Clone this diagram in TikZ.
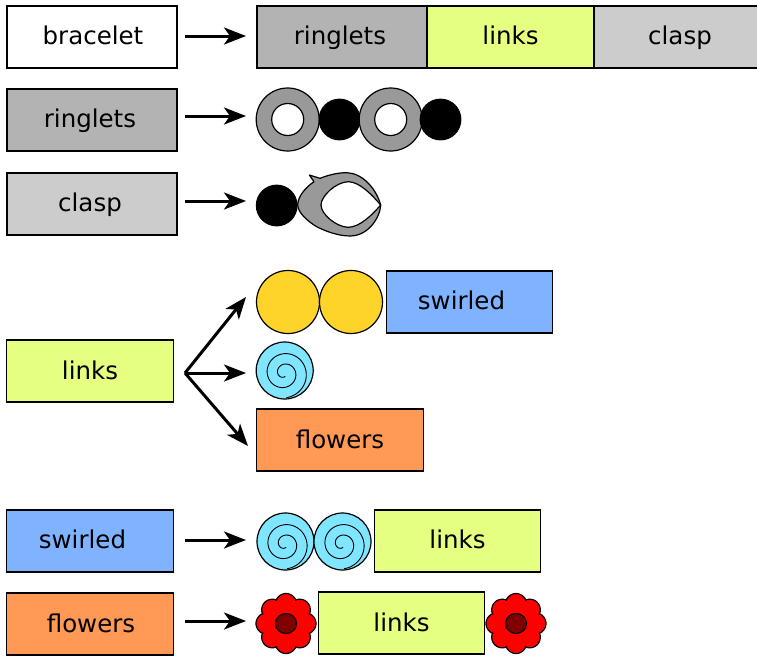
\documentclass[tikz,border=0pt]{standalone}
\usepackage{fontspec}
\setmainfont{DejaVu Sans}
\usetikzlibrary{arrows.meta}
\definecolor{cgray}{HTML}{B3B3B3}
\definecolor{clime}{HTML}{E5FF80}
\definecolor{clight}{HTML}{CCCCCC}
\definecolor{cblue}{HTML}{80B3FF}
\definecolor{corange}{HTML}{FF9955}
\definecolor{cyellow}{HTML}{FFD42A}
\definecolor{ccyan}{HTML}{80E5FF}
\definecolor{cring}{HTML}{999999}
\definecolor{cdark}{HTML}{800000}
\newcommand{\pad}[1]{\rule{#1pt}{0pt}}
\tikzset{
  x=1pt,y=-1pt,
  box/.style={draw=black,line width=1.2pt,inner sep=0pt,minimum height=62pt,font=\fontsize{24.5pt}{28pt}\selectfont,text height=18pt,text depth=4pt,anchor=center},
  low/.style={text height=19pt,text depth=3pt},
  wa/.style={box,minimum width=170pt},
  wb/.style={box,minimum width=166.5pt},
  arr/.style={draw=black,line width=3pt,-{Stealth[length=22pt,width=17pt,inset=6pt]}},
  shp/.style={draw=black,line width=1.2pt},
}
\newcommand{\swirl}[2]{%
  \begin{scope}[shift={(#1,#2)}]
    \draw[shp,fill=ccyan] (0,0) circle[radius=28.5];
    \draw[black,line width=0.9pt] plot[samples=150,domain=-110:625,variable=\t] ({-0.6-(6.4+0.02915*\t)*cos(\t)},{2.7-(6.4+0.02915*\t)*sin(\t)});
  \end{scope}}
\newcommand{\flower}[2]{%
  \begin{scope}[shift={(#1,#2)}]
    \draw[shp,fill=red,line join=round] plot[samples=289,domain=0:360,variable=\t] ({(25+2.5*sqrt(abs(cos(4*\t)))+2.5*abs(cos(4*\t)))*sin(\t)},{(25+2.5*sqrt(abs(cos(4*\t)))+2.5*abs(cos(4*\t)))*cos(\t)}) -- cycle;
    \draw[shp,fill=cdark] (0,0) ellipse[x radius=10.5,y radius=10];
  \end{scope}}
\begin{document}
\begin{tikzpicture}
\useasboundingbox (0,0) rectangle (757,656);
\clip (0,0) rectangle (757,656);
% left column
\node[wa] (lbracelet) at (92,37) {\pad{2}bracelet};
\node[wa,fill=cgray] (lringlets) at (92,120) {ringlets\pad{4}};
\node[wa,fill=clight] (lclasp) at (92,204) {clasp\pad{4}};
\node[wb,fill=clime,low] (llinks) at (90,371) {links};
\node[wb,fill=cblue] (lswirled) at (90,541) {swirled\pad{15}};
\node[wb,fill=corange,low] (lflowers) at (90,624) {\pad{2}flowers};
% bracelet row
\node[wa,fill=cgray] (rringlets) at (342,37) {ringlets\pad{4}};
\node[wb,fill=clime] (rlinks) at (510.5,37) {links};
\node[wb,fill=clight] (rclasp) at (677.5,37) {\pad{5}clasp};
% links row
\node[wb,fill=cblue] (rswirled) at (469.5,302) {swirled\pad{16}};
\node[wb,fill=corange,low] (rflowers) at (340,440) {flowers};
\node[wb,fill=clime] (slinks) at (457.5,541) {links};
\node[wb,fill=clime,low] (flinks) at (401.5,623) {links};
% ringlets
\draw[shp,fill=cring] (287.7,119.5) circle[radius=31.5];
\draw[shp,fill=white] (287.7,119.5) circle[radius=16];
\draw[shp,fill=black] (339.5,119.5) circle[radius=20.3];
\draw[shp,fill=cring] (390.7,119.5) circle[radius=31.5];
\draw[shp,fill=white] (390.7,119.5) circle[radius=16];
\draw[shp,fill=black] (440.5,119.5) circle[radius=20.3];
% clasp
\draw[shp,fill=black] (276.7,205.5) circle[radius=20.3];
\draw[shp,fill=cring,line join=round] (297.7,205)
  .. controls (298,196) and (306,187) .. (314,181.7)
  -- (309.3,175) -- (320,178.3)
  .. controls (330,174.5) and (338,172.7) .. (346.7,172.7)
  .. controls (362,173) and (376,188) .. (380.7,205)
  .. controls (380,218) and (368,236) .. (350,236)
  .. controls (338,236) and (325,231) .. (316.7,226.7)
  .. controls (308,221.5) and (298,213) .. (297.7,205) -- cycle;
\draw[shp,fill=white,line join=round] (380.7,205)
  .. controls (372,195) and (360,182) .. (348.3,181.7)
  .. controls (336,182) and (321,196) .. (321,205)
  .. controls (321,214) and (336,227) .. (348.3,227.3)
  .. controls (360,227) and (372,215) .. (380.7,205) -- cycle;
% links contents
\draw[shp,fill=cyellow] (288,302) circle[radius=31.5];
\draw[shp,fill=cyellow] (351,302) circle[radius=31.5];
\swirl{284.7}{370.5}
\swirl{285.5}{541.5}
\swirl{342.5}{541.5}
\flower{286}{623.5}
\flower{516}{623.5}
% connectors
\coordinate (abr) at (246,36);
\coordinate (ari) at (246,116);
\coordinate (acl) at (246,201);
\coordinate (branch) at (185,373);
\coordinate (a1) at (246,297);
\coordinate (a2) at (246,373);
\coordinate (a3) at (248,446);
\coordinate (asw) at (246,540);
\coordinate (afl) at (246,621);
\draw[arr] (lbracelet.east |- abr) ++(7,0) -- (abr);
\draw[arr] (lringlets.east |- ari) ++(7,0) -- (ari);
\draw[arr] (lclasp.east |- acl) ++(7,0) -- (acl);
\draw[arr] (branch) -- (a1);
\draw[arr] (branch) -- (a2);
\draw[arr] (branch) -- (a3);
\draw[arr] (lswirled.east |- asw) ++(11,0) -- (asw);
\draw[arr] (lflowers.east |- afl) ++(11,0) -- (afl);
\end{tikzpicture}
\end{document}
